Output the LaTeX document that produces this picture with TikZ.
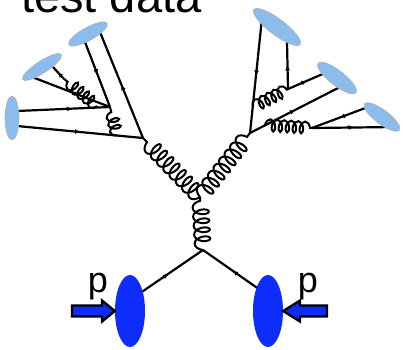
\documentclass[tikz,border=0pt]{standalone}
\usepackage{fontspec}
\setmainfont{Liberation Sans}
\usetikzlibrary{decorations.pathmorphing,decorations.markings,arrows.meta,shapes.geometric}

\begin{document}
\begin{tikzpicture}[x=1pt,y=1pt,
    quark/.style={line width=2.2pt, postaction={decorate},
      decoration={markings, mark=at position 0.5 with {\arrow{Latex[length=5pt,width=5pt]}}}},
    gluon/.style={line width=2pt, decorate,
      decoration={coil, amplitude=8pt, segment length=9pt, aspect=0.55}},
    smallgluon/.style={gluon, decoration={amplitude=6pt, segment length=7pt}},
    jet/.style={ellipse, inner sep=0pt, fill=jetblue, draw=gray!60, line width=0.6pt},
    proton/.style={ellipse, inner sep=0pt, fill=protonblue, minimum width=30pt, minimum height=72pt},
    beam/.style={fill=protonblue, draw=black, line width=2.4pt, line join=miter}]

        % Define colors for the blobs
        \definecolor{protonblue}{RGB}{15,45,250} % Incoming protons
        \definecolor{jetblue}{RGB}{140,188,235}  % Final state hadrons

        \useasboundingbox (0,0) rectangle (403,349);

        % Title
        \node[anchor=base west, inner sep=0pt, font=\fontsize{47}{56}\selectfont] (title) at (21,336) {test data};

        % Vertices of the hard process
        \coordinate (v0) at (203,99);  % q q -> g
        \coordinate (v1) at (200,152); % g -> g g
        \coordinate (lv) at (143,211); % left jet
        \coordinate (rv) at (250,216); % right jet

        % Vertices inside the left jet
        \coordinate (la) at (110,242);
        \coordinate (lb) at (117,213.5);
        \coordinate (lc) at (97,243);
        \coordinate (ld) at (63,271);

        % Vertices inside the right jet
        \coordinate (re) at (288,260);
        \coordinate (rf) at (253,242);
        \coordinate (rh) at (265,224);
        \coordinate (ri) at (312,221);

        % End points of the lines on the hadrons
        \coordinate (l1) at (17,223);
        \coordinate (l2) at (17,238);
        \coordinate (t1) at (100,317);
        \coordinate (t2) at (85,307);
        \coordinate (s1) at (32,272);
        \coordinate (s2) at (53,282);
        \coordinate (r1) at (262,331);
        \coordinate (r2) at (287,307);
        \coordinate (m1) at (325,276);
        \coordinate (m2) at (340,262);
        \coordinate (n1) at (368,242);
        \coordinate (n2) at (395,222);

        % Quarks leaving the protons
        \coordinate (ql) at (133,51);
        \coordinate (qr) at (263,57);

        % Draw the hard process
        \draw[quark] (ql) -- (v0);
        \draw[quark] (qr) -- (v0);
        \draw[gluon] (v0) -- (v1);
        \draw[gluon] (v1) -- (lv);
        \draw[gluon] (v1) -- (rv);

        % Draw the left jet
        \draw[quark] (l1) -- (lv);
        \draw[quark] (lv) -- (t1);
        \draw[smallgluon] (lb) -- (la);
        \draw[quark] (la) -- (l2);
        \draw[quark] (t2) -- (la);
        \draw[quark] (la) -- (s1);
        \draw[smallgluon] (lc) -- (ld);
        \draw[quark] (ld) -- (s2);

        % Draw the right jet
        \draw[quark] (r1) -- (rv);
        \draw[smallgluon] (rf) -- (re);
        \draw[quark] (re) -- (r2);
        \draw[quark] (re) -- (m1);
        \draw[quark] (rv) -- (m2);
        \draw[smallgluon] (rh) -- (ri);
        \draw[quark] (n1) -- (ri);
        \draw[quark] (ri) -- (n2);

        % Draw the hadrons on top of the lines
        \node[jet, minimum width=44pt, minimum height=14pt, rotate=90] (hadA) at (12,231) {};
        \node[jet, minimum width=46pt, minimum height=12pt, rotate=33] (hadB) at (42,282) {};
        \node[jet, minimum width=44pt, minimum height=13pt, rotate=29] (hadC) at (88,315) {};
        \node[jet, minimum width=58pt, minimum height=16pt, rotate=-37] (hadD) at (277,322) {};
        \node[jet, minimum width=48pt, minimum height=15pt, rotate=-38] (hadE) at (337,271) {};
        \node[jet, minimum width=44pt, minimum height=14pt, rotate=-37] (hadF) at (382,232) {};

        % Draw the protons and their beams
        \node[proton] (pl) at (130,38) {};
        \node[proton] (pr) at (268,38) {};
        \draw[beam] (72,32.5) -- (102,32.5) -- (102,27.5) -- (pl.west) -- (102,48.5) -- (102,43.5) -- (72,43.5) -- cycle;
        \draw[beam] (327,32.5) -- (300,32.5) -- (300,27.5) -- (pr.east) -- (300,48.5) -- (300,43.5) -- (327,43.5) -- cycle;
        \node[anchor=base, inner sep=0pt, font=\fontsize{36}{40}\selectfont] (pleft) at (98,57) {p};
        \node[anchor=base, inner sep=0pt, font=\fontsize{36}{40}\selectfont] (pright) at (308,57) {p};
\end{tikzpicture}
\end{document}
